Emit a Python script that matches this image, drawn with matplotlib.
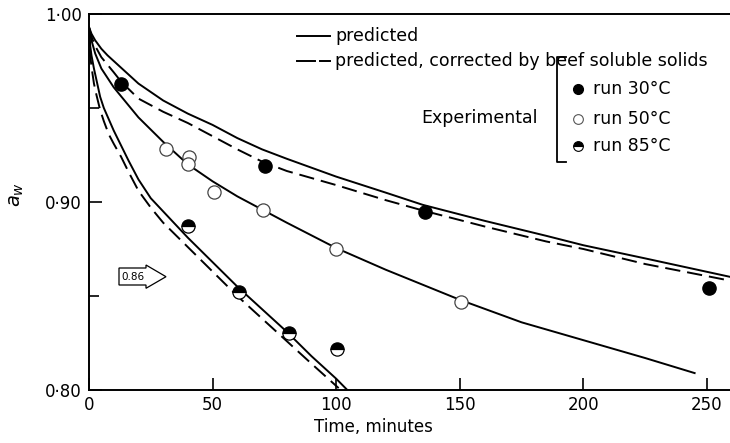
import matplotlib
matplotlib.use("Agg")
import matplotlib.pyplot as plt
from matplotlib.lines import Line2D
from matplotlib.patches import Polygon

plt.rcParams['font.family'] = ['DejaVu Sans']
plt.rcParams['lines.scale_dashes'] = False

# predicted water activity curves (time in minutes)
t_30_pred = [0, 1, 2.5, 5, 7.5, 10, 15, 20, 30, 40, 50, 60, 70, 80, 100, 120, 135, 160, 185,
             200, 225, 260]
a_30_pred = [0.993, 0.9895, 0.986, 0.9815, 0.978, 0.975, 0.969, 0.963, 0.954, 0.947, 0.941,
             0.934, 0.928, 0.923, 0.9135, 0.905, 0.8985, 0.890, 0.882, 0.877, 0.870, 0.860]
t_30_corr = [0, 1, 2.5, 5, 7.5, 10, 13, 20, 30, 40, 50, 60, 70, 80, 100, 120, 135, 160, 185,
             200, 225, 260]
a_30_corr = [0.993, 0.988, 0.983, 0.977, 0.973, 0.969, 0.964, 0.955, 0.948, 0.942, 0.935,
             0.928, 0.9215, 0.9165, 0.909, 0.901, 0.8955, 0.887, 0.879, 0.875, 0.867, 0.858]

t_50_pred = [0, 1, 2.5, 5, 7.5, 10, 15, 20, 30, 40, 50, 60, 70, 80, 100, 120, 150, 175, 200,
             225, 245]
a_50_pred = [0.993, 0.986, 0.979, 0.971, 0.966, 0.961, 0.953, 0.945, 0.932, 0.920, 0.911,
             0.903, 0.896, 0.889, 0.8755, 0.864, 0.848, 0.836, 0.8265, 0.817, 0.809]

t_85_pred = [0, 0.5, 1, 2, 3, 4.5, 6, 8, 10, 13, 16, 20, 25, 30, 40, 50, 60, 70, 80, 90, 100,
             104.5]
a_85_pred = [0.993, 0.983, 0.978, 0.971, 0.965, 0.956, 0.950, 0.944, 0.938, 0.930, 0.922,
             0.912, 0.902, 0.895, 0.881, 0.868, 0.855, 0.843, 0.831, 0.818, 0.806, 0.800]
t_85_corr = [0, 0.5, 1, 2, 3, 4.5, 6, 8, 10, 13, 16, 20, 25, 30, 40, 50, 60, 70, 80, 90, 101]
a_85_corr = [0.993, 0.978, 0.972, 0.963, 0.957, 0.949, 0.943, 0.936, 0.931, 0.924, 0.916,
             0.906, 0.897, 0.889, 0.876, 0.863, 0.850, 0.838, 0.826, 0.814, 0.801]

# experimental runs
t_30 = [13, 71, 136, 251]
a_30 = [0.963, 0.919, 0.8945, 0.854]
t_50 = [31, 40.5, 40, 50.5, 70.5, 100, 150.5]
a_50 = [0.928, 0.924, 0.920, 0.9055, 0.896, 0.875, 0.847]
t_85 = [40, 60.5, 81, 100.5]
a_85 = [0.887, 0.852, 0.8305, 0.822]

x_ticks = [0, 50, 100, 150, 200, 250]
y_ticks = [0.80, 0.90, 1.00]
y_tick_labels = ['0\u00b780', '0\u00b790', '1\u00b700']
y_minor = [0.85, 0.95]

W, H = 730, 443


def fpos(x, y):
    # pixel position -> figure fraction
    return x / W, 1 - y / H


fig = plt.figure(figsize=(W / 100, H / 100), dpi=100)
ax = fig.add_axes([89 / W, 1 - 390 / H, 642.7 / W, 376 / H])

lw = 1.4
dash = (11, 5)
ax.plot(t_30_pred, a_30_pred, color='black', lw=lw)
ax.plot(t_30_corr, a_30_corr, color='black', lw=lw, dashes=dash)
ax.plot(t_50_pred, a_50_pred, color='black', lw=lw)
ax.plot(t_85_pred, a_85_pred, color='black', lw=lw)
ax.plot(t_85_corr, a_85_corr, color='black', lw=lw, dashes=dash)

ms = 9.5
ax.plot(t_30, a_30, 'o', ms=ms, mfc='black', mec='black', zorder=5)
ax.plot(t_50, a_50, 'o', ms=ms, mfc='white', mec='#444444', mew=0.9, zorder=5)
ax.plot(t_85, a_85, 'o', ms=ms, fillstyle='top', mfc='black', mfcalt='white',
        mec='black', mew=0.9, zorder=5)

ax.set_xlim(0, 260)
ax.set_ylim(0.80, 1.00)
ax.set_xticks(x_ticks)
ax.set_xticklabels([str(v) for v in x_ticks])
ax.set_yticks(y_ticks)
ax.set_yticklabels(y_tick_labels)
ax.set_yticks(y_minor, minor=True)
ax.tick_params(axis='both', which='major', direction='in', length=9, width=1.2,
               labelsize=12, pad=5)
ax.tick_params(axis='y', which='minor', direction='in', length=7, width=1.2)
ax.tick_params(axis='x', which='major', pad=4)
for side in ['left', 'bottom', 'top']:
    ax.spines[side].set_linewidth(1.4)
ax.spines['right'].set_visible(False)

ax.set_xlabel('Time, minutes', fontsize=12)
ax.xaxis.set_label_coords(0.443, -0.075)
ax.set_ylabel('$a_w$', fontsize=14, rotation=90)
ax.yaxis.set_label_coords(-0.098, 0.52)

# arrow tag pointing at the 0.86 level
tag = [(119, 268), (146, 268), (146, 265), (166, 276.7), (146, 288.3), (146, 285), (119, 285)]
fig.add_artist(Polygon([fpos(x, y) for x, y in tag], closed=True, fc='white', ec='black',
                       lw=0.9, transform=fig.transFigure))
fig.text(*fpos(132.5, 277), '0.86', fontsize=7.5, ha='center', va='center')

# key for the curves
fig.add_artist(Line2D([297 / W, 330 / W], [fpos(0, 36)[1]] * 2, color='black', lw=lw))
fig.text(*fpos(335, 36), 'predicted', fontsize=12.5, va='center')
fig.add_artist(Line2D([297 / W, 315 / W], [fpos(0, 61)[1]] * 2, color='black', lw=lw))
fig.add_artist(Line2D([320 / W, 330 / W], [fpos(0, 61)[1]] * 2, color='black', lw=lw))
fig.text(*fpos(335, 61), 'predicted, corrected by beef soluble solids', fontsize=12.5,
         va='center')

# key for the experimental runs
fig.text(*fpos(421, 118), 'Experimental', fontsize=12.5, va='center')
bx0, bx1 = 556.5 / W, 566 / W
by0, by1 = fpos(0, 57)[1], fpos(0, 162)[1]
fig.add_artist(Line2D([bx1, bx0, bx0, bx1], [by0, by0, by1, by1], color='black', lw=1.3))

key_rows = [
    (89, 'run 30\u00b0C', dict(mfc='black', mec='black')),
    (119, 'run 50\u00b0C', dict(mfc='white', mec='#555555', mew=0.8)),
    (146, 'run 85\u00b0C', dict(fillstyle='top', mfc='black', mfcalt='white', mec='black', mew=0.8)),
]
for py, label, style in key_rows:
    x, y = fpos(578, py)
    fig.add_artist(Line2D([x], [y], marker='o', ms=7, ls='none', **style))
    fig.text(*fpos(593, py), label, fontsize=12.5, va='center')

fig.savefig('out.png', dpi=100)
